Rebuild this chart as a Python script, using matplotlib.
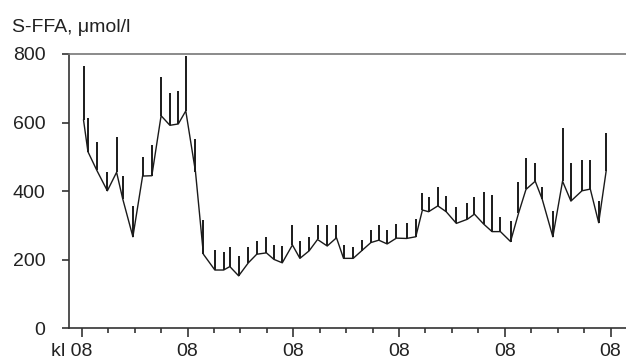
import matplotlib.pyplot as plt
import matplotlib.transforms as mtransforms
import numpy as np

plt.rcParams['font.family'] = ['Liberation Sans', 'DejaVu Sans']

# sampling time in hours after 08:00 on day 1
hours = [0.4, 1.4, 3.4, 5.8, 7.9, 9.3, 11.6, 13.8, 15.9, 18.0, 20.0, 21.9, 23.6,
         25.8, 27.6, 30.2, 32.2, 33.6, 35.6, 37.8, 39.7, 41.9, 43.6, 45.5, 47.8,
         49.5, 51.6, 53.5, 55.7, 57.8, 59.4, 61.6, 63.5, 65.6, 67.4, 69.3, 71.4,
         73.7, 75.8, 77.3, 78.7, 80.8, 82.7, 85.0, 87.5, 89.1, 91.2, 93.1, 95.0,
         97.3, 99.1, 100.8, 102.9, 104.5, 106.9, 109.1, 111.0, 113.5, 115.4, 117.3, 119.0]
ffa_mean = [607, 515, 461, 401, 455, 377, 267, 444, 445, 620, 592, 596, 634,
            457, 216, 170, 170, 180, 153, 191, 216, 220, 201, 191, 243,
            204, 226, 259, 240, 264, 204, 204, 226, 250, 257, 246, 263,
            262, 267, 345, 340, 357, 340, 306, 318, 333, 304, 282, 282,
            253, 335, 405, 429, 376, 267, 429, 371, 401, 406, 308, 459]
ffa_top = [765, 614, 544, 455, 559, 444, 357, 500, 536, 734, 685, 691, 794,
           552, 316, 228, 223, 238, 211, 236, 255, 267, 243, 240, 301,
           255, 267, 301, 301, 301, 243, 238, 257, 287, 301, 287, 304,
           308, 318, 396, 382, 411, 386, 355, 364, 382, 398, 389, 324,
           313, 427, 496, 481, 411, 343, 583, 481, 491, 491, 372, 570]

major_ticks = [0, 24, 48, 72, 96, 120]
tick_labels = ['kl 08', '08', '08', '08', '08', '08']
y_ticks = [0, 200, 400, 600, 800]

mean = np.array(ffa_mean)
upper = np.array(ffa_top) - mean

fig = plt.figure(figsize=(6.26, 3.63), dpi=100)
ax = fig.add_axes([69 / 626, 1 - 328.3 / 363, 1 - 69 / 626, (328.3 - 54) / 363])

ax.errorbar(hours, mean, yerr=[np.zeros_like(upper), upper], fmt='-', color='#1a1a1a',
            lw=1.0, elinewidth=1.4, capsize=0)

ax.set_xlim(-2.9, 123.5)
ax.set_ylim(0, 800)
ax.set_yticks(y_ticks)
ax.set_xticks(major_ticks)
ax.set_xticks(np.arange(6, 120, 6), minor=True)
ax.set_xticklabels(tick_labels)

ax.spines['right'].set_visible(False)
for s in ['left', 'bottom']:
    ax.spines[s].set_color('#333333')
ax.spines['top'].set_color('#777777')
for s in ax.spines.values():
    s.set_linewidth(1.2)

ax.tick_params(axis='y', length=5, width=1.2, color='#333333', pad=12,
               labelsize=14, labelcolor='#222222')
ax.tick_params(axis='x', which='major', length=6.5, width=1.2, color='#333333', pad=4,
               labelsize=14, labelcolor='#222222')
ax.tick_params(axis='x', which='minor', length=3.6, width=1.2, color='#333333')

# first label: keep "08" centered under the tick, "kl" sticking out to the left
first = ax.get_xticklabels()[0]
first.set_horizontalalignment('right')
first.set_transform(first.get_transform() +
                    mtransforms.ScaledTranslation(10.5 / 100, 0, fig.dpi_scale_trans))

fig.text(12 / 626, 1 - 32.3 / 363, 'S-FFA, μmol/l', fontsize=14, color='#222222',
         va='baseline', ha='left')

fig.savefig('out.png', dpi=100)
